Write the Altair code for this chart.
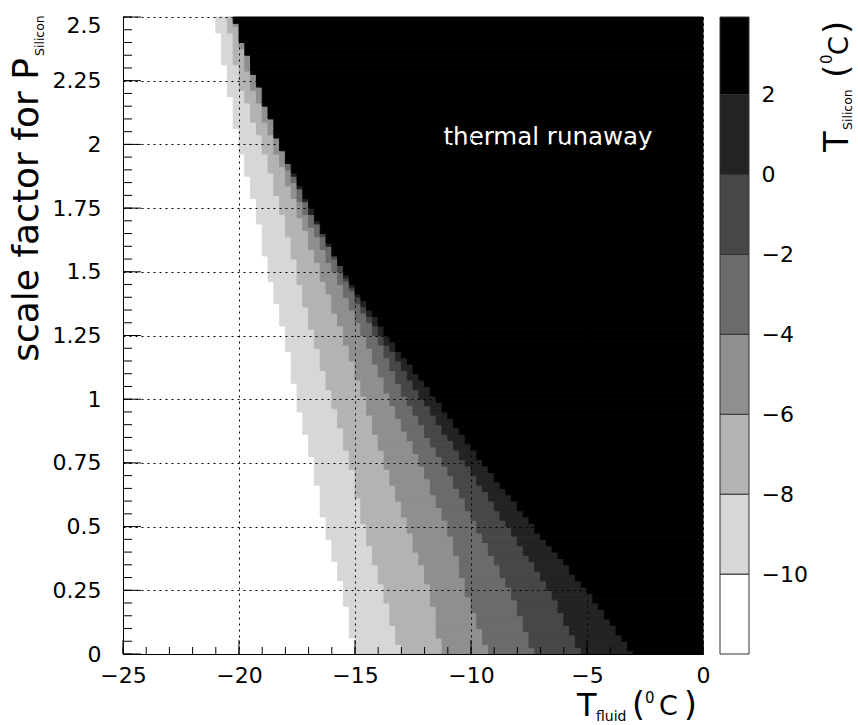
import altair as alt
import numpy as np
import pandas as pd

FONT = "DejaVu Sans"

# rows (scale factor for P_Silicon) at which the contour boundaries were read
y_knots = [0.0, 0.25, 0.5, 0.75, 1.0, 1.25, 1.5, 1.75, 2.0, 2.25, 2.5]
# T_fluid at which T_Silicon crosses each contour level, per knot row
b_m10 = [-15.0, -15.5, -16.3, -16.8, -17.5, -18.0, -18.75, -19.25, -20.0, -20.5, -21.0]
b_m8 = [-13.0, -13.8, -14.6, -15.2, -16.0, -16.8, -17.5, -18.2, -19.0, -20.0, -20.5]
b_m6 = [-11.25, -11.75, -12.75, -13.7, -14.6, -15.5, -16.5, -17.5, -18.5, -19.5, -20.25]
b_m4 = [-9.25, -10.2, -11.0, -12.2, -13.5, -14.6, -15.9, -17.25, -18.25, -19.25, -20.25]
b_m2 = [-7.25, -8.3, -9.75, -11.2, -12.8, -14.1, -15.6, -17.0, -18.25, -19.25, -20.25]
b_0 = [-5.25, -6.6, -8.4, -10.25, -12.1, -13.85, -15.5, -17.0, -18.25, -19.25, -20.25]
b_2 = [-3.0, -5.0, -7.3, -9.5, -11.5, -13.6, -15.5, -16.9, -18.25, -19.25, -20.25]

band_colors = ["#ffffff", "#d7d7d7", "#b3b3b3", "#8f8f8f", "#6b6b6b", "#474747", "#232323", "#000000"]
band_lo = [-12, -10, -8, -6, -4, -2, 0, 2]
band_hi = [-10, -8, -6, -4, -2, 0, 2, 3.94]
palette_labels = [-10, -8, -6, -4, -2, 0, 2]

x_ticks_major = [-25, -20, -15, -10, -5, 0]
x_ticks_minor = list(range(-25, 1))
y_ticks_major = [0, 0.25, 0.5, 0.75, 1, 1.25, 1.5, 1.75, 2, 2.25, 2.5]
y_ticks_minor = [round(0.05 * i, 2) for i in range(51)]

X_BIN = 0.25
Y_BIN = 0.0125

# ---- build histogram cells (one rect per band per run of bin rows) ----
bounds = [b_m10, b_m8, b_m6, b_m4, b_m2, b_0, b_2]
segments = []
for i in range(int(round(2.5 / Y_BIN))):
    y0 = i * Y_BIN
    y1 = y0 + Y_BIN
    yc = 0.5 * (y0 + y1)
    edges = [-25.0] + [float(np.round(np.interp(yc, y_knots, b) / X_BIN) * X_BIN) for b in bounds] + [0.0]
    edges = [float(v) for v in np.maximum.accumulate(edges)]
    if segments and segments[-1][0] == edges:
        segments[-1][2] = y1
    else:
        segments.append([edges, y0, y1])

recs = []
for edges, y0, y1 in segments:
    for k in range(8):
        if edges[k + 1] > edges[k]:
            recs.append({"x0": edges[k], "x1": edges[k + 1], "y0": y0, "y1": y1, "band": k})
cells = pd.DataFrame(recs)

W, H = 580, 637
xscale = alt.Scale(domain=[-25, 0], nice=False, zero=False)
yscale = alt.Scale(domain=[0, 2.5], nice=False, zero=False)
cscale = alt.Scale(domain=list(range(8)), range=band_colors)
minus = "replace(datum.label, '-', '\u2212')"

xaxis = alt.Axis(
    orient="bottom", values=x_ticks_major, format=".6~g", labelExpr=minus,
    grid=True, gridColor="black", gridDash=[2, 4], gridWidth=1, gridOpacity=1,
    ticks=False, tickSize=0, domain=True, domainColor="black", domainWidth=1,
    labelFont=FONT, labelFontSize=22, labelColor="black", labelPadding=11,
    labelFlush=False, labelOverlap=False, title=None, zindex=1)
yaxis = alt.Axis(
    orient="left", values=y_ticks_major, format=".6~g",
    grid=True, gridColor="black", gridDash=[2, 4], gridWidth=1, gridOpacity=1,
    ticks=False, tickSize=0, domain=True, domainColor="black", domainWidth=1,
    labelFont=FONT, labelFontSize=22, labelColor="black", labelPadding=22,
    labelOffset={"condition": {"test": "datum.value >= 2.5", "value": 8}, "value": 0},
    labelFlush=False, labelOverlap=False, title=None, zindex=1)

heat = alt.Chart(cells).mark_rect(strokeWidth=1).encode(
    x=alt.X("x0:Q", scale=xscale, axis=xaxis),
    x2="x1:Q",
    y=alt.Y("y0:Q", scale=yscale, axis=yaxis),
    y2="y1:Q",
    color=alt.Color("band:O", scale=cscale, legend=None),
    stroke=alt.Stroke("band:O", scale=cscale, legend=None),
)


def rule_x(vals, length):
    return alt.Chart(pd.DataFrame({"x0": vals})).mark_rule(color="black", strokeWidth=1).encode(
        x=alt.X("x0:Q", scale=xscale, axis=xaxis), y=alt.value(H), y2=alt.value(H - length))


def rule_y(vals, length):
    return alt.Chart(pd.DataFrame({"v": vals})).mark_rule(color="black", strokeWidth=1).encode(
        y=alt.Y("v:Q", scale=yscale, axis=None), x=alt.value(0), x2=alt.value(length))


ticks = [rule_x(x_ticks_minor, 7), rule_x(x_ticks_major, 14), rule_y(y_ticks_minor, 9), rule_y(y_ticks_major, 18)]

pal = pd.DataFrame({"lo": band_lo, "hi": band_hi, "band": list(range(8))})
palette = alt.Chart(pal).mark_rect(stroke="#333333", strokeWidth=1).encode(
    x=alt.value(597), x2=alt.value(626),
    y=alt.Y("lo:Q", scale=alt.Scale(domain=[-12, 3.94], nice=False, zero=False), axis=alt.Axis(
        orient="right", offset=46, values=palette_labels, format=".6~g", labelExpr=minus,
        domain=False, ticks=False, tickSize=0, grid=False,
        labelFont=FONT, labelFontSize=22, labelColor="black", labelPadding=12, title=None)),
    y2="hi:Q",
    color=alt.Color("band:O", scale=cscale, legend=None),
)


def txt(s, x, y, size, angle=0, align="left", color="black", weight="normal"):
    # x, y are absolute page pixels; converted to plot-relative
    return alt.Chart(pd.DataFrame({"t": [s]})).mark_text(
        align=align, baseline="alphabetic", angle=angle, fontSize=size, font=FONT,
        fontWeight=weight, color=color).encode(
        x=alt.value(x - 123), y=alt.value(y - 17), text="t:N")


texts = [
    txt("thermal runaway", 548, 145, 24.5, align="center", color="white"),
    # x title  T_fluid (0C)
    txt("T", 577, 716, 32),
    txt("fluid", 596, 721, 14),
    txt("(", 632, 716, 33),
    txt("0", 645, 703, 15),
    txt("C", 659, 715, 27),
    txt(")", 684, 716, 33),
    # y title  scale factor for P_Silicon
    txt("scale factor for P", 38, 58, 36, angle=270, align="right"),
    txt("Silicon", 44, 56, 12.5, angle=270, align="left"),
    # palette title  T_Silicon (0C)
    txt("T", 848, 152, 34, angle=270),
    txt("Silicon", 852, 130, 12.5, angle=270),
    txt("(", 848, 78, 34, angle=270),
    txt("0", 832, 64, 15, angle=270),
    txt("C", 848, 55, 27, angle=270),
    txt(")", 848, 34, 34, angle=270),
]

chart = alt.layer(heat, *ticks, palette, *texts).resolve_scale(y="independent").properties(
    width=W, height=H,
    autosize=alt.AutoSizeParams(type="none"),
    padding={"left": 123, "top": 17, "right": 155, "bottom": 71},
).configure_view(stroke=None).configure(background="white")

chart.save("out.html", embed_options={"renderer": "svg", "actions": False})
